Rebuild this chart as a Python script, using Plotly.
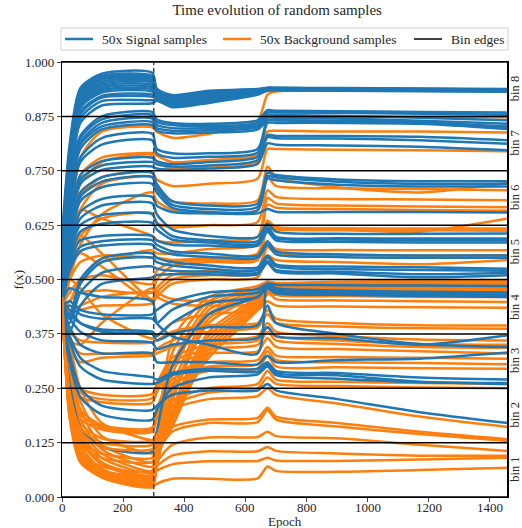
import plotly.graph_objects as go

# Epochs at which each sample's classifier output f(x) is recorded
EPOCHS = [0, 25, 60, 130, 295, 310, 360, 480, 640, 672, 700, 900, 1170, 1459]

# Signal samples, grouped by where they end up
SIG_TOP = [
    [0.60, 0.81, 0.940, 0.973, 0.975, 0.939, 0.924, 0.934, 0.938, 0.941, 0.941, 0.940, 0.939, 0.938],
    [0.58, 0.80, 0.935, 0.968, 0.968, 0.937, 0.922, 0.932, 0.937, 0.940, 0.940, 0.939, 0.938, 0.937],
    [0.57, 0.79, 0.930, 0.964, 0.964, 0.935, 0.920, 0.930, 0.936, 0.940, 0.940, 0.939, 0.938, 0.937],
    [0.56, 0.78, 0.925, 0.960, 0.960, 0.933, 0.918, 0.928, 0.935, 0.939, 0.939, 0.938, 0.937, 0.936],
    [0.55, 0.77, 0.920, 0.955, 0.956, 0.931, 0.916, 0.926, 0.934, 0.939, 0.939, 0.938, 0.937, 0.936],
    [0.56, 0.76, 0.915, 0.950, 0.952, 0.929, 0.914, 0.924, 0.933, 0.938, 0.938, 0.938, 0.937, 0.936],
    [0.54, 0.75, 0.910, 0.945, 0.947, 0.927, 0.912, 0.922, 0.932, 0.938, 0.938, 0.937, 0.936, 0.935],
    [0.55, 0.745, 0.905, 0.940, 0.942, 0.925, 0.910, 0.920, 0.931, 0.937, 0.937, 0.937, 0.936, 0.935],
    [0.53, 0.74, 0.900, 0.935, 0.937, 0.923, 0.908, 0.918, 0.930, 0.937, 0.937, 0.936, 0.935, 0.934],
    [0.54, 0.735, 0.895, 0.930, 0.932, 0.921, 0.906, 0.916, 0.929, 0.936, 0.936, 0.936, 0.935, 0.934],
    [0.52, 0.72, 0.885, 0.922, 0.925, 0.919, 0.904, 0.914, 0.928, 0.936, 0.936, 0.935, 0.934, 0.933],
    [0.53, 0.715, 0.880, 0.918, 0.920, 0.917, 0.902, 0.912, 0.927, 0.935, 0.936, 0.935, 0.934, 0.933],
    [0.52, 0.71, 0.870, 0.910, 0.912, 0.914, 0.899, 0.909, 0.926, 0.935, 0.935, 0.935, 0.934, 0.933],
    [0.51, 0.70, 0.860, 0.900, 0.905, 0.911, 0.896, 0.906, 0.925, 0.934, 0.935, 0.934, 0.933, 0.932],
]
SIG_BIN7 = [
    [0.50, 0.71, 0.830, 0.875, 0.885, 0.868, 0.860, 0.858, 0.866, 0.889, 0.888, 0.887, 0.885, 0.884],
    [0.52, 0.71, 0.825, 0.868, 0.878, 0.862, 0.855, 0.853, 0.860, 0.884, 0.884, 0.883, 0.881, 0.879],
    [0.49, 0.69, 0.815, 0.860, 0.870, 0.855, 0.848, 0.848, 0.855, 0.879, 0.878, 0.876, 0.872, 0.866],
    [0.50, 0.685, 0.810, 0.852, 0.862, 0.848, 0.842, 0.843, 0.850, 0.872, 0.872, 0.870, 0.865, 0.858],
    [0.48, 0.675, 0.800, 0.845, 0.855, 0.842, 0.836, 0.838, 0.845, 0.866, 0.866, 0.864, 0.860, 0.852],
    [0.48, 0.66, 0.780, 0.825, 0.835, 0.800, 0.790, 0.790, 0.800, 0.866, 0.866, 0.865, 0.862, 0.850],
    [0.47, 0.65, 0.770, 0.810, 0.820, 0.790, 0.780, 0.782, 0.792, 0.860, 0.860, 0.860, 0.858, 0.846],
    [0.46, 0.63, 0.740, 0.772, 0.780, 0.772, 0.765, 0.770, 0.782, 0.832, 0.830, 0.830, 0.828, 0.820],
    [0.47, 0.625, 0.730, 0.762, 0.770, 0.765, 0.760, 0.762, 0.775, 0.827, 0.825, 0.824, 0.820, 0.812],
    [0.45, 0.61, 0.720, 0.752, 0.760, 0.755, 0.752, 0.755, 0.766, 0.813, 0.810, 0.808, 0.805, 0.797],
]
SIG_BIN6 = [
    [0.46, 0.60, 0.700, 0.735, 0.745, 0.720, 0.680, 0.670, 0.675, 0.745, 0.740, 0.730, 0.726, 0.726],
    [0.45, 0.59, 0.690, 0.725, 0.735, 0.710, 0.672, 0.662, 0.667, 0.738, 0.735, 0.725, 0.720, 0.720],
    [0.44, 0.58, 0.680, 0.712, 0.720, 0.700, 0.665, 0.655, 0.659, 0.732, 0.728, 0.718, 0.714, 0.714],
    [0.45, 0.57, 0.655, 0.685, 0.690, 0.670, 0.655, 0.652, 0.652, 0.662, 0.656, 0.655, 0.655, 0.654],
]
SIG_BIN5 = [
    [0.44, 0.56, 0.640, 0.670, 0.675, 0.650, 0.615, 0.600, 0.598, 0.628, 0.610, 0.605, 0.605, 0.606],
    [0.45, 0.56, 0.625, 0.648, 0.650, 0.630, 0.600, 0.590, 0.588, 0.620, 0.598, 0.595, 0.594, 0.594],
    [0.44, 0.545, 0.610, 0.628, 0.630, 0.615, 0.592, 0.585, 0.582, 0.615, 0.595, 0.592, 0.590, 0.590],
    [0.46, 0.54, 0.590, 0.600, 0.600, 0.590, 0.580, 0.578, 0.578, 0.610, 0.590, 0.587, 0.585, 0.585],
    [0.45, 0.53, 0.575, 0.588, 0.590, 0.580, 0.565, 0.560, 0.555, 0.588, 0.565, 0.558, 0.555, 0.555],
    [0.44, 0.52, 0.565, 0.578, 0.580, 0.570, 0.558, 0.552, 0.550, 0.580, 0.558, 0.552, 0.550, 0.550],
    [0.43, 0.41, 0.500, 0.548, 0.560, 0.550, 0.540, 0.532, 0.528, 0.555, 0.535, 0.530, 0.528, 0.525],
    [0.44, 0.42, 0.490, 0.540, 0.550, 0.540, 0.532, 0.525, 0.522, 0.550, 0.530, 0.524, 0.522, 0.520],
    [0.43, 0.40, 0.470, 0.515, 0.530, 0.525, 0.520, 0.518, 0.516, 0.542, 0.522, 0.518, 0.512, 0.515],
    [0.42, 0.38, 0.440, 0.490, 0.505, 0.510, 0.512, 0.512, 0.512, 0.538, 0.518, 0.514, 0.505, 0.510],
]
SIG_BIN4 = [
    [0.45, 0.48, 0.470, 0.460, 0.450, 0.400, 0.370, 0.350, 0.330, 0.490, 0.488, 0.487, 0.486, 0.485],
    [0.44, 0.45, 0.430, 0.420, 0.420, 0.430, 0.450, 0.470, 0.478, 0.490, 0.480, 0.475, 0.472, 0.470],
    [0.43, 0.44, 0.420, 0.410, 0.410, 0.400, 0.430, 0.460, 0.470, 0.485, 0.475, 0.470, 0.467, 0.465],
    [0.44, 0.42, 0.400, 0.385, 0.380, 0.370, 0.400, 0.445, 0.460, 0.480, 0.468, 0.465, 0.462, 0.460],
    [0.40, 0.26, 0.160, 0.115, 0.104, 0.150, 0.300, 0.420, 0.460, 0.480, 0.470, 0.468, 0.466, 0.464],
]
SIG_LOW = [
    [0.45, 0.43, 0.400, 0.380, 0.375, 0.360, 0.375, 0.390, 0.395, 0.440, 0.400, 0.375, 0.352, 0.345],
    [0.44, 0.41, 0.380, 0.360, 0.355, 0.340, 0.350, 0.360, 0.365, 0.390, 0.370, 0.365, 0.350, 0.372],
    [0.43, 0.39, 0.350, 0.330, 0.330, 0.310, 0.310, 0.310, 0.305, 0.325, 0.310, 0.315, 0.318, 0.332],
    [0.42, 0.37, 0.320, 0.290, 0.275, 0.270, 0.285, 0.295, 0.295, 0.310, 0.290, 0.285, 0.275, 0.270],
    [0.43, 0.36, 0.300, 0.270, 0.260, 0.262, 0.280, 0.290, 0.288, 0.305, 0.285, 0.280, 0.265, 0.260],
    [0.42, 0.33, 0.250, 0.210, 0.200, 0.210, 0.235, 0.245, 0.245, 0.260, 0.245, 0.225, 0.195, 0.170],
    [0.42, 0.31, 0.230, 0.190, 0.178, 0.200, 0.250, 0.275, 0.282, 0.300, 0.280, 0.272, 0.264, 0.262],
]

# Background samples, grouped by where they end up
BKG_HIGH = [
    [0.45, 0.62, 0.780, 0.840, 0.850, 0.840, 0.826, 0.835, 0.865, 0.925, 0.932, 0.936, 0.937, 0.937],
    [0.44, 0.60, 0.740, 0.780, 0.790, 0.785, 0.770, 0.775, 0.788, 0.872, 0.875, 0.874, 0.874, 0.873],
    [0.45, 0.59, 0.720, 0.770, 0.786, 0.770, 0.755, 0.760, 0.772, 0.840, 0.842, 0.840, 0.840, 0.838],
    [0.44, 0.57, 0.690, 0.735, 0.746, 0.730, 0.715, 0.720, 0.732, 0.800, 0.800, 0.798, 0.797, 0.795],
    [0.43, 0.55, 0.660, 0.720, 0.735, 0.710, 0.680, 0.675, 0.682, 0.760, 0.735, 0.712, 0.700, 0.722],
    [0.42, 0.50, 0.580, 0.650, 0.700, 0.680, 0.660, 0.655, 0.660, 0.735, 0.715, 0.710, 0.708, 0.705],
    [0.44, 0.52, 0.600, 0.640, 0.652, 0.630, 0.620, 0.625, 0.632, 0.705, 0.690, 0.685, 0.684, 0.682],
    [0.45, 0.58, 0.660, 0.640, 0.600, 0.590, 0.585, 0.590, 0.598, 0.688, 0.675, 0.670, 0.668, 0.666],
    [0.44, 0.45, 0.500, 0.540, 0.567, 0.560, 0.560, 0.570, 0.582, 0.672, 0.665, 0.662, 0.660, 0.658],
    [0.45, 0.50, 0.540, 0.555, 0.550, 0.550, 0.545, 0.550, 0.560, 0.635, 0.620, 0.615, 0.610, 0.640],
    [0.44, 0.47, 0.500, 0.510, 0.490, 0.520, 0.540, 0.545, 0.550, 0.628, 0.620, 0.618, 0.617, 0.617],
    [0.43, 0.45, 0.470, 0.475, 0.470, 0.500, 0.530, 0.540, 0.545, 0.618, 0.615, 0.613, 0.613, 0.612],
    [0.44, 0.55, 0.600, 0.560, 0.455, 0.480, 0.510, 0.520, 0.525, 0.585, 0.570, 0.568, 0.567, 0.567],
    [0.43, 0.52, 0.560, 0.530, 0.450, 0.470, 0.500, 0.510, 0.515, 0.575, 0.560, 0.557, 0.555, 0.556],
    [0.44, 0.42, 0.430, 0.440, 0.445, 0.460, 0.490, 0.500, 0.505, 0.555, 0.545, 0.540, 0.535, 0.545],
]
BKG_BAND = [
    [0.45, 0.20, 0.090, 0.045, 0.025, 0.100, 0.330, 0.450, 0.480, 0.495, 0.492, 0.495, 0.497, 0.498],
    [0.44, 0.21, 0.095, 0.050, 0.028, 0.120, 0.360, 0.460, 0.485, 0.495, 0.490, 0.493, 0.495, 0.496],
    [0.46, 0.22, 0.100, 0.052, 0.030, 0.090, 0.300, 0.440, 0.478, 0.490, 0.488, 0.490, 0.492, 0.494],
    [0.45, 0.23, 0.105, 0.055, 0.033, 0.080, 0.280, 0.430, 0.475, 0.488, 0.485, 0.488, 0.490, 0.492],
    [0.47, 0.24, 0.110, 0.060, 0.036, 0.070, 0.250, 0.420, 0.470, 0.485, 0.483, 0.486, 0.488, 0.490],
    [0.46, 0.25, 0.120, 0.065, 0.040, 0.070, 0.230, 0.410, 0.468, 0.483, 0.480, 0.483, 0.485, 0.488],
    [0.45, 0.26, 0.130, 0.075, 0.045, 0.075, 0.220, 0.400, 0.465, 0.480, 0.478, 0.480, 0.483, 0.485],
    [0.47, 0.27, 0.140, 0.080, 0.050, 0.080, 0.200, 0.380, 0.460, 0.478, 0.476, 0.478, 0.480, 0.483],
    [0.46, 0.28, 0.150, 0.090, 0.055, 0.085, 0.190, 0.370, 0.455, 0.476, 0.474, 0.476, 0.478, 0.480],
    [0.45, 0.29, 0.160, 0.100, 0.060, 0.090, 0.180, 0.360, 0.450, 0.474, 0.472, 0.474, 0.476, 0.478],
    [0.47, 0.30, 0.180, 0.110, 0.070, 0.095, 0.170, 0.350, 0.445, 0.472, 0.470, 0.472, 0.474, 0.476],
    [0.48, 0.32, 0.200, 0.120, 0.080, 0.100, 0.160, 0.340, 0.440, 0.470, 0.468, 0.470, 0.472, 0.474],
    [0.46, 0.34, 0.220, 0.140, 0.100, 0.110, 0.170, 0.330, 0.435, 0.468, 0.466, 0.468, 0.470, 0.472],
    [0.47, 0.36, 0.250, 0.170, 0.130, 0.130, 0.190, 0.320, 0.430, 0.466, 0.465, 0.466, 0.468, 0.470],
]
BKG_MID = [
    [0.46, 0.36, 0.350, 0.400, 0.480, 0.470, 0.455, 0.450, 0.455, 0.480, 0.465, 0.462, 0.460, 0.460],
    [0.45, 0.43, 0.440, 0.460, 0.470, 0.460, 0.445, 0.440, 0.445, 0.470, 0.455, 0.452, 0.450, 0.448],
    [0.46, 0.50, 0.480, 0.420, 0.364, 0.370, 0.400, 0.420, 0.430, 0.450, 0.440, 0.438, 0.436, 0.435],
    [0.45, 0.38, 0.360, 0.355, 0.355, 0.360, 0.380, 0.395, 0.400, 0.430, 0.410, 0.400, 0.395, 0.394],
    [0.44, 0.36, 0.330, 0.330, 0.330, 0.340, 0.360, 0.380, 0.390, 0.420, 0.400, 0.392, 0.388, 0.387],
    [0.45, 0.34, 0.310, 0.320, 0.325, 0.330, 0.345, 0.360, 0.370, 0.400, 0.380, 0.370, 0.362, 0.360],
    [0.44, 0.30, 0.250, 0.235, 0.237, 0.260, 0.320, 0.350, 0.360, 0.390, 0.370, 0.360, 0.352, 0.350],
    [0.45, 0.29, 0.240, 0.225, 0.227, 0.250, 0.310, 0.340, 0.350, 0.380, 0.360, 0.352, 0.345, 0.343],
    [0.44, 0.28, 0.230, 0.218, 0.217, 0.240, 0.300, 0.330, 0.335, 0.365, 0.345, 0.340, 0.335, 0.330],
    [0.45, 0.27, 0.200, 0.165, 0.160, 0.200, 0.280, 0.310, 0.315, 0.345, 0.325, 0.322, 0.320, 0.318],
    [0.44, 0.26, 0.190, 0.160, 0.155, 0.190, 0.270, 0.300, 0.305, 0.335, 0.315, 0.310, 0.308, 0.305],
    [0.45, 0.25, 0.180, 0.155, 0.150, 0.180, 0.260, 0.290, 0.295, 0.325, 0.300, 0.298, 0.296, 0.295],
    [0.44, 0.25, 0.170, 0.135, 0.130, 0.150, 0.220, 0.250, 0.260, 0.290, 0.270, 0.265, 0.262, 0.260],
    [0.45, 0.24, 0.160, 0.125, 0.120, 0.140, 0.210, 0.240, 0.250, 0.275, 0.260, 0.255, 0.252, 0.250],
]
BKG_LOW = [
    [0.45, 0.24, 0.150, 0.115, 0.110, 0.130, 0.200, 0.225, 0.232, 0.250, 0.235, 0.215, 0.185, 0.161],
    [0.44, 0.22, 0.130, 0.100, 0.090, 0.110, 0.160, 0.178, 0.182, 0.205, 0.185, 0.170, 0.150, 0.133],
    [0.45, 0.21, 0.120, 0.090, 0.080, 0.100, 0.150, 0.170, 0.172, 0.200, 0.178, 0.162, 0.145, 0.129],
    [0.44, 0.20, 0.100, 0.070, 0.060, 0.080, 0.120, 0.137, 0.138, 0.150, 0.140, 0.135, 0.120, 0.106],
    [0.46, 0.19, 0.090, 0.060, 0.050, 0.070, 0.095, 0.105, 0.105, 0.115, 0.106, 0.100, 0.095, 0.095],
    [0.45, 0.19, 0.085, 0.055, 0.045, 0.060, 0.075, 0.082, 0.083, 0.090, 0.084, 0.083, 0.086, 0.090],
    [0.46, 0.18, 0.080, 0.045, 0.022, 0.030, 0.042, 0.042, 0.043, 0.070, 0.060, 0.058, 0.062, 0.067],
]

SIGNAL = SIG_TOP + SIG_BIN7 + SIG_BIN6 + SIG_BIN5 + SIG_BIN4 + SIG_LOW
BACKGROUND = BKG_HIGH + BKG_BAND + BKG_MID + BKG_LOW

BIN_EDGES = [0.0, 0.125, 0.25, 0.375, 0.5, 0.625, 0.75, 0.875, 1.0]
BIN_LABELS = ["bin 1", "bin 2", "bin 3", "bin 4", "bin 5", "bin 6", "bin 7", "bin 8"]
Y_TICKS = [0.0, 0.125, 0.25, 0.375, 0.5, 0.625, 0.75, 0.875, 1.0]
X_TICKS = [0, 200, 400, 600, 800, 1000, 1200, 1400]
SWITCH_EPOCH = 300
MAX_EPOCH = 1459

LEGEND_NAMES = ["50x Signal samples", "50x Background samples", "Bin edges"]

BLUE = "#1f77b4"
ORANGE = "#ff7f0e"
FONT = "Liberation Serif"
TEXT = "#262626"

W, H = 522, 528
ML, MR, MT, MB = 62, 14, 62, 31
PW, PH = W - ML - MR, H - MT - MB


def px_x(p):
    """Pixel column -> paper x."""
    return (p - ML) / PW


def px_y(p):
    """Pixel row -> paper y."""
    return (H - MB - p) / PH


fig = go.Figure()

# Interleave signal and background curves
for i in range(max(len(SIGNAL), len(BACKGROUND))):
    if i < len(SIGNAL):
        fig.add_trace(go.Scatter(
            x=EPOCHS, y=SIGNAL[i], mode="lines",
            line=dict(color=BLUE, width=2.5, shape="spline", smoothing=0.7),
            name=LEGEND_NAMES[0], showlegend=False, hoverinfo="skip"))
    if i < len(BACKGROUND):
        fig.add_trace(go.Scatter(
            x=EPOCHS, y=BACKGROUND[i], mode="lines",
            line=dict(color=ORANGE, width=2.5, shape="spline", smoothing=0.7),
            name=LEGEND_NAMES[1], showlegend=False, hoverinfo="skip"))

# Horizontal bin edges drawn over the curves
ex, ey = [], []
for e in BIN_EDGES:
    ex += [0, MAX_EPOCH, None]
    ey += [e, e, None]
fig.add_trace(go.Scatter(x=ex, y=ey, mode="lines",
                         line=dict(color="black", width=1.5),
                         name=LEGEND_NAMES[2], showlegend=False, hoverinfo="skip"))

# Vertical dashed marker where training changes
fig.add_shape(type="line", xref="x", yref="y", x0=SWITCH_EPOCH, x1=SWITCH_EPOCH,
              y0=0, y1=1, line=dict(color="#444444", width=1.5, dash="5px,3px"),
              layer="above")

# Thicker right frame
fig.add_shape(type="line", xref="paper", yref="paper", x0=1, x1=1, y0=0, y1=1,
              line=dict(color="black", width=2), layer="above")

# Bin names along the right edge
for k, lab in enumerate(BIN_LABELS):
    fig.add_annotation(x=1, xref="paper", y=(BIN_EDGES[k] + BIN_EDGES[k + 1]) / 2, yref="y",
                       text=lab, textangle=-90, showarrow=False, xanchor="center",
                       xshift=7, borderpad=0,
                       font=dict(family=FONT, size=12.5, color=TEXT))

# Legend row above the plot: framed box, line keys and labels
box_l, box_r, box_t, box_b = 61, 508, 28, 50
fig.add_shape(type="rect", xref="paper", yref="paper",
              x0=px_x(box_l), x1=px_x(box_r), y0=px_y(box_b), y1=px_y(box_t),
              line=dict(color="#d0d0d0", width=1), fillcolor="white", layer="above")
key_cy = (box_t + box_b) / 2
legend_items = [(65, BLUE, 2.5), (223, ORANGE, 2.5), (414, "black", 1.5)]
for (kx, col, lw), name in zip(legend_items, LEGEND_NAMES):
    fig.add_shape(type="line", xref="paper", yref="paper",
                  x0=px_x(kx), x1=px_x(kx + 28), y0=px_y(key_cy), y1=px_y(key_cy),
                  line=dict(color=col, width=lw), layer="above")
    fig.add_annotation(x=px_x(kx + 36), xref="paper", y=px_y(key_cy), yref="paper",
                       text=name, showarrow=False, xanchor="left", yanchor="middle",
                       borderpad=0, font=dict(family=FONT, size=13.5, color=TEXT))

# Epoch tick labels, set close under the tick marks
for t in X_TICKS:
    fig.add_annotation(x=t, xref="x", y=px_y(508), yref="paper", text=str(t),
                       showarrow=False, xanchor="center", yanchor="middle", borderpad=0,
                       font=dict(family=FONT, size=13, color=TEXT))

# Axis titles
fig.add_annotation(x=0.5, xref="paper", y=px_y(521.5), yref="paper", text="Epoch",
                   showarrow=False, xanchor="center", yanchor="middle", borderpad=0,
                   font=dict(family=FONT, size=13, color=TEXT))
fig.add_annotation(x=px_x(18), xref="paper", y=0.5, yref="paper", text="f(x)",
                   textangle=-90, showarrow=False, xanchor="center", yanchor="middle",
                   borderpad=0, font=dict(family=FONT, size=13, color=TEXT))

fig.update_layout(
    width=W, height=H,
    margin=dict(l=ML, r=MR, t=MT, b=MB),
    paper_bgcolor="white", plot_bgcolor="white",
    font=dict(family=FONT, size=13, color=TEXT),
    title=dict(text="Time evolution of random samples", x=0.531, xanchor="center",
               y=1 - 4 / H, yanchor="top", font=dict(family=FONT, size=15, color=TEXT)),
    showlegend=False,
)
fig.update_xaxes(range=[0, MAX_EPOCH], tickvals=X_TICKS, ticks="outside", ticklen=4,
                 showticklabels=False,
                 showline=True, linecolor="black", linewidth=1.2, mirror=True,
                 showgrid=False, zeroline=False, automargin=False)
fig.update_yaxes(range=[0, 1], tickvals=Y_TICKS, ticktext=[f"{v:.3f}" for v in Y_TICKS],
                 ticks="outside", ticklen=4, showline=True, linecolor="black",
                 linewidth=1.2, mirror=True, showgrid=False, zeroline=False,
                 automargin=False,
                 tickfont=dict(family=FONT, size=13))

fig.write_html("out.html")
